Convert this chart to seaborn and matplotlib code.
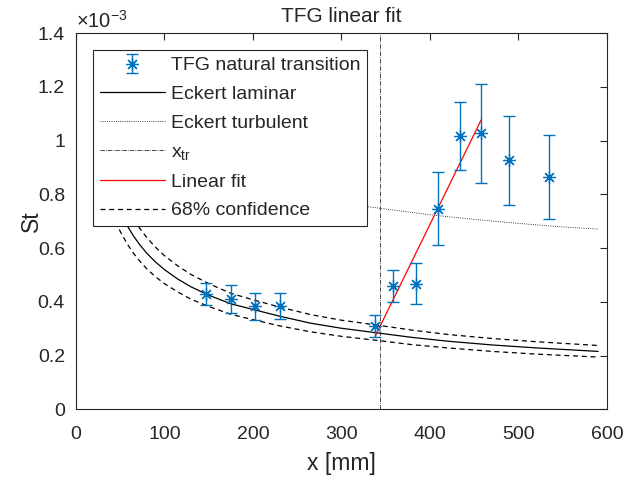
import matplotlib
matplotlib.use('Agg')
import matplotlib.pyplot as plt
import seaborn as sns
from matplotlib.ticker import FuncFormatter, MultipleLocator

# ── Data (x in mm, St in units of 1e-3) ───────────────────────────────────
x_meas = [147, 175, 202, 231, 338, 358, 384, 409, 434, 458, 489, 534]
st_meas = [0.430, 0.410, 0.383, 0.384, 0.311, 0.458, 0.468, 0.747, 1.018, 1.027, 0.927, 0.865]
st_err = [0.042, 0.053, 0.051, 0.049, 0.041, 0.060, 0.077, 0.135, 0.127, 0.185, 0.166, 0.155]

x_lam = [30, 40, 50, 58, 65, 72, 80, 90, 100, 115, 130, 150, 175, 200, 230,
         265, 300, 340, 380, 420, 470, 520, 590]
st_lam = [0.949, 0.822, 0.735, 0.683, 0.645, 0.613, 0.581, 0.548, 0.520, 0.485,
          0.456, 0.425, 0.393, 0.372, 0.347, 0.321, 0.302, 0.285, 0.268, 0.254,
          0.240, 0.229, 0.216]
st_upper = [1.044, 0.904, 0.809, 0.751, 0.710, 0.674, 0.639, 0.603, 0.572, 0.534,
            0.502, 0.468, 0.432, 0.408, 0.381, 0.353, 0.332, 0.314, 0.295, 0.279,
            0.264, 0.252, 0.238]
st_lower = [0.854, 0.740, 0.662, 0.615, 0.581, 0.552, 0.523, 0.493, 0.468, 0.437,
            0.410, 0.383, 0.354, 0.334, 0.311, 0.289, 0.272, 0.257, 0.241, 0.229,
            0.216, 0.206, 0.195]

x_turb = [150, 200, 250, 300, 330, 400, 450, 500, 550, 590]
st_turb = [0.881, 0.832, 0.796, 0.767, 0.754, 0.724, 0.707, 0.692, 0.679, 0.671]

x_fit = [338, 458]
st_fit = [0.272, 1.078]

x_tr = 343.5

# ── Style ─────────────────────────────────────────────────────────────────
sns.set_style('white')
plt.rcParams['font.family'] = ['Liberation Sans', 'DejaVu Sans']
plt.rcParams.update({
    'axes.edgecolor': '#262626', 'text.color': '#262626',
    'xtick.color': '#262626', 'ytick.color': '#262626',
    'axes.labelcolor': '#262626', 'axes.linewidth': 0.8,
    'xtick.direction': 'in', 'ytick.direction': 'in',
    'mathtext.fontset': 'custom', 'mathtext.rm': 'Liberation Sans',
    'mathtext.it': 'Liberation Sans',
})

fig = plt.figure(figsize=(6.27, 4.80), dpi=100)
ax = fig.add_axes([0.1212, 0.1469, 0.8469, 0.7843])

BLUE = '#0072BD'
DASH = (0, (4, 3))

eb = ax.errorbar(x_meas, st_meas, yerr=st_err, fmt='none', ecolor=BLUE,
                 elinewidth=1.0, capsize=4, capthick=1.0, zorder=3)
pts, = ax.plot(x_meas, st_meas, linestyle='none', marker=(8, 2, 0),
               markersize=9, markeredgewidth=0.9, color=BLUE, zorder=4)


def curve(x, y, **kw):
    sns.lineplot(x=x, y=y, ax=ax, sort=False, estimator=None, legend=False, **kw)
    return ax.lines[-1]


h_lam = curve(x_lam, st_lam, color='black', lw=0.9)
h_turb = curve(x_turb, st_turb, color='black', lw=0.6, linestyle=':')
h_tr = ax.axvline(x_tr, color='black', lw=0.5, linestyle='-.')
h_fit = curve(x_fit, st_fit, color='red', lw=0.9)
h_conf = curve(x_lam, st_upper, color='black', lw=0.9, linestyle=DASH)
curve(x_lam, st_lower, color='black', lw=0.9, linestyle=DASH)

ax.set_xlim(0, 600)
ax.set_ylim(0, 1.4)
ax.xaxis.set_major_locator(MultipleLocator(100))
ax.yaxis.set_major_locator(MultipleLocator(0.2))
ax.yaxis.set_major_formatter(FuncFormatter(lambda v, p: f"{v:g}"))
ax.tick_params(axis='both', which='both', top=True, right=True, length=5,
               width=0.8, labelsize=14)
ax.tick_params(axis='x', pad=12)
ax.tick_params(axis='y', pad=8)

ax.text(0.0, 1.003, r'$\times\mathregular{10^{-3}}$', transform=ax.transAxes,
        fontsize=14.5, ha='left', va='bottom')
ax.set_title('TFG linear fit', fontsize=15, pad=8)
ax.set_xlabel('x [mm]', fontsize=16.5)
ax.set_ylabel('St', fontsize=16.5)
ax.xaxis.set_label_coords(0.5, -0.113)
ax.yaxis.set_label_coords(-0.063, 0.5)

leg = ax.legend(
    handles=[(eb, pts), h_lam, h_turb, h_tr, h_fit, h_conf],
    labels=['TFG natural transition', 'Eckert laminar', 'Eckert turbulent',
            r'x$_{\mathregular{tr}}$', 'Linear fit', '68% confidence'],
    loc='upper left', bbox_to_anchor=(0.032, 0.955), borderaxespad=0,
    fontsize=14, frameon=True, fancybox=False, framealpha=1,
    handlelength=3.35, handletextpad=0.3, labelspacing=0.575, borderpad=0.35)
leg.get_frame().set_edgecolor('#262626')
leg.get_frame().set_linewidth(0.8)

fig.savefig('out.png', dpi=100, facecolor='white')
